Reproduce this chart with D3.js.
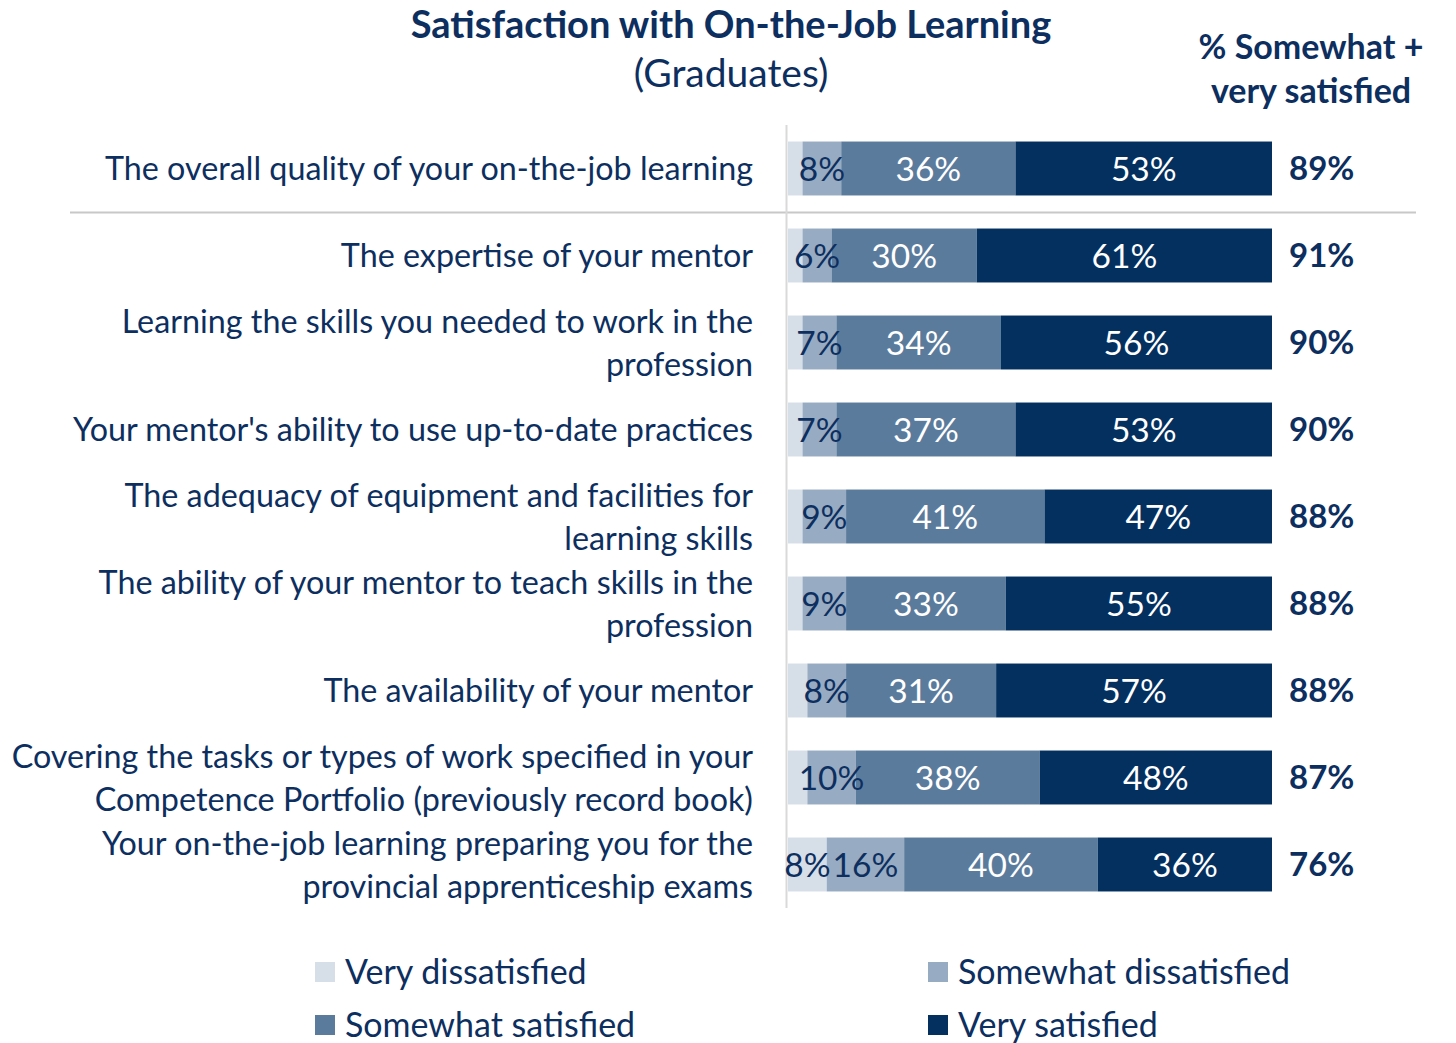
<!DOCTYPE html>
<html>
<head>
<meta charset="utf-8">
<script src="https://cdn.jsdelivr.net/npm/d3@7"></script>
<style>
  html, body { margin: 0; padding: 0; background: #ffffff; }
  svg { display: block; font-family: Lato, "Open Sans", sans-serif; }
</style>
</head>
<body>
<svg id="chart" width="1456" height="1043"></svg>
<script>
// Survey items (label lines) shown top to bottom
const categories = [
  ["The overall quality of your on-the-job learning"],
  ["The expertise of your mentor"],
  ["Learning the skills you needed to work in the", "profession"],
  ["Your mentor's ability to use up-to-date practices"],
  ["The adequacy of equipment and facilities for", "learning skills"],
  ["The ability of your mentor to teach skills in the", "profession"],
  ["The availability of your mentor"],
  ["Covering the tasks or types of work specified in your", "Competence Portfolio (previously record book)"],
  ["Your on-the-job learning preparing you for the", "provincial apprenticeship exams"]
];

const seriesNames = ["Very dissatisfied", "Somewhat dissatisfied", "Somewhat satisfied", "Very satisfied"];

// Percentages per series, one value per item
const veryDissatisfied     = [3, 3, 3, 3, 3, 3, 4, 4, 8];
const somewhatDissatisfied = [8, 6, 7, 7, 9, 9, 8, 10, 16];
const somewhatSatisfied    = [36, 30, 34, 37, 41, 33, 31, 38, 40];
const verySatisfied        = [53, 61, 56, 53, 47, 55, 57, 48, 36];

// Net satisfaction column
const netSatisfied = [89, 91, 90, 90, 88, 88, 88, 87, 76];

// Which items show a data label for "Very dissatisfied"
const showVeryDissatisfiedLabel = [false, false, false, false, false, false, false, false, true];

const colors = ["#d6dee8", "#97abc2", "#5b7b9c", "#03305f"];
const labelColors = ["#0d2f5f", "#0d2f5f", "#ffffff", "#ffffff"];
const textColor = "#0d2f5f";

const svg = d3.select("#chart");

const seriesValues = [veryDissatisfied, somewhatDissatisfied, somewhatSatisfied, verySatisfied];
const rows = categories.map((c, i) => {
  const r = { index: i };
  seriesNames.forEach((s, k) => { r[s] = seriesValues[k][i]; });
  return r;
});

const stack = d3.stack().keys(seriesNames);
const stacked = stack(rows);

const x = d3.scaleLinear().domain([0, 100]).range([788, 1272]);
const y = d3.scaleBand().domain(d3.range(categories.length)).range([125, 908]).paddingInner(0.38).paddingOuter(0.19);

// Title
svg.append("text")
  .attr("x", 731).attr("y", 38)
  .attr("text-anchor", "middle")
  .attr("font-size", 38).attr("font-weight", 700)
  .attr("fill", textColor)
  .text("Satisfaction with On-the-Job Learning");
svg.append("text")
  .attr("x", 731).attr("y", 87)
  .attr("text-anchor", "middle")
  .attr("font-size", 39)
  .attr("fill", textColor)
  .text("(Graduates)");

// Net column header
svg.append("text")
  .attr("x", 1311).attr("y", 59)
  .attr("text-anchor", "middle")
  .attr("font-size", 34).attr("font-weight", 700)
  .attr("fill", textColor)
  .text("% Somewhat +");
svg.append("text")
  .attr("x", 1311).attr("y", 103)
  .attr("text-anchor", "middle")
  .attr("font-size", 34).attr("font-weight", 700)
  .attr("fill", textColor)
  .text("very satisfied");

// Separator beneath the overall item
svg.append("line")
  .attr("x1", 70).attr("x2", 1416)
  .attr("y1", 212.5).attr("y2", 212.5)
  .attr("stroke", "#c8c8c8").attr("stroke-width", 2);

// Category axis line
svg.append("line")
  .attr("x1", 786.5).attr("x2", 786.5)
  .attr("y1", 125).attr("y2", 908)
  .attr("stroke", "#d9d9d9").attr("stroke-width", 2);

// Bars
const layers = svg.append("g").selectAll("g")
  .data(stacked)
  .join("g")
  .attr("fill", (d, k) => colors[k]);

layers.selectAll("rect")
  .data(d => d)
  .join("rect")
  .attr("x", d => x(d[0]))
  .attr("y", (d, i) => y(i))
  .attr("width", d => x(d[1]) - x(d[0]))
  .attr("height", y.bandwidth());

// Segment labels
stacked.forEach((layer, k) => {
  svg.append("g").selectAll("text")
    .data(layer.filter((d, i) => k !== 0 || showVeryDissatisfiedLabel[i]))
    .join("text")
    .attr("x", d => (x(d[0]) + x(d[1])) / 2)
    .attr("y", d => y(d.data.index) + y.bandwidth() / 2)
    .attr("dy", "0.36em")
    .attr("text-anchor", "middle")
    .attr("font-size", 33.5)
    .attr("fill", labelColors[k])
    .text(d => (d[1] - d[0]) + "%");
});

// Net satisfied values
svg.append("g").selectAll("text")
  .data(netSatisfied)
  .join("text")
  .attr("x", 1289)
  .attr("y", (d, i) => y(i) + y.bandwidth() / 2)
  .attr("dy", "0.36em")
  .attr("font-size", 33).attr("font-weight", 700)
  .attr("fill", textColor)
  .text(d => d + "%");

// Category labels
const lineGap = 43;
const catG = svg.append("g").selectAll("text")
  .data(categories)
  .join("text")
  .attr("text-anchor", "end")
  .attr("font-size", 32.3)
  .attr("fill", textColor)
  .attr("transform", (d, i) => `translate(753,${y(i) + y.bandwidth() / 2})`);
catG.selectAll("tspan")
  .data(d => d.map((t, j) => ({ t, j, n: d.length })))
  .join("tspan")
  .attr("x", 0)
  .attr("y", d => (d.j - (d.n - 1) / 2) * lineGap)
  .attr("dy", "0.36em")
  .text(d => d.t);

// Legend
const legendPos = [[315, 972], [928, 972], [315, 1025], [928, 1025]];
const legend = svg.append("g").selectAll("g")
  .data(seriesNames)
  .join("g")
  .attr("transform", (d, k) => `translate(${legendPos[k][0]},${legendPos[k][1]})`);
legend.append("rect")
  .attr("x", 0).attr("y", -10)
  .attr("width", 20).attr("height", 20)
  .attr("fill", (d, k) => colors[k]);
legend.append("text")
  .attr("x", 30).attr("y", 0)
  .attr("dy", "0.36em")
  .attr("font-size", 34)
  .attr("fill", textColor)
  .text(d => d);
</script>
</body>
</html>
